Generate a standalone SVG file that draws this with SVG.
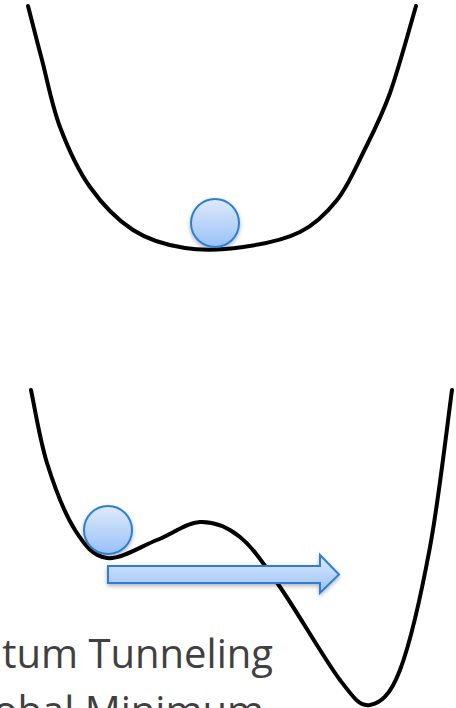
<svg xmlns="http://www.w3.org/2000/svg" width="456" height="708" viewBox="0 0 456 708">
  <defs>
    <linearGradient id="blueFill" x1="0" y1="0" x2="0" y2="1">
      <stop offset="0" stop-color="#dfeafc"/>
      <stop offset="1" stop-color="#98c1f7"/>
    </linearGradient>
    <filter id="shadow" x="-20%" y="-20%" width="140%" height="160%">
      <feDropShadow dx="0" dy="2" stdDeviation="2" flood-color="#000" flood-opacity="0.3"/>
    </filter>
    <style>
      .curve { fill: none; stroke: #000; stroke-width: 4; stroke-linecap: round; }
      .blue { fill: url(#blueFill); stroke: #2f7fd1; stroke-width: 2; filter: url(#shadow); }
      .label { font-family: "Open Sans", "Liberation Sans", sans-serif; font-size: 40px; fill: #404040; }
    </style>
  </defs>
  <rect width="456" height="708" fill="#fff"/>

  <g id="single-well">
    <path class="curve" d="M28,6 C30.3,15 36.7,39.8 42,60 C47.3,80.2 52,105.8 60,127 C68,148.2 77.8,169.8 90,187 C102.2,204.2 117.2,219.8 133,230 C148.8,240.2 166.7,245.2 185,248 C203.3,250.8 223.8,249.7 243,247 C262.2,244.3 284.3,239.8 300,232 C315.7,224.2 326.5,213.2 337,200 C347.5,186.8 354.2,170.8 363,153 C371.8,135.2 381.2,117.5 390,93 C398.8,68.5 411.7,20.5 416,6"/>
  </g>
  <g id="ball-top">
    <circle class="blue" cx="215" cy="223" r="24"/>
  </g>

  <g id="double-well">
    <path class="curve" stroke-width="3.6" d="M31,390 C33.7,402.2 39.7,439.7 47,463 C54.3,486.3 65,514.2 75,530 C85,545.8 93.3,556.3 107,558 C120.7,559.7 141.5,546 157,540 C172.5,534 186.2,522.5 200,522 C213.8,521.5 226.7,526.2 240,537 C253.3,547.8 263.3,563.2 280,587 C296.7,610.8 325,660.3 340,680 C355,699.7 360,706.7 370,705 C380,703.3 390,696.3 400,670 C410,643.7 421.3,593.7 430,547 C438.7,500.3 448.3,416.2 452,390"/>
  </g>
  <g id="ball-bottom">
    <circle class="blue" cx="108" cy="530" r="24"/>
  </g>

  <g id="connectors">
    <polygon id="tunnel-arrow" class="blue" points="108,566 320,566 320,555 339,574.5 320,593 320,583 108,583"/>
  </g>

  <g id="caption">
    <text class="label" x="273" y="668" text-anchor="end">Quantum Tunneling</text>
    <text class="label" x="264" y="725" text-anchor="end">to Global Minimum</text>
  </g>
</svg>
